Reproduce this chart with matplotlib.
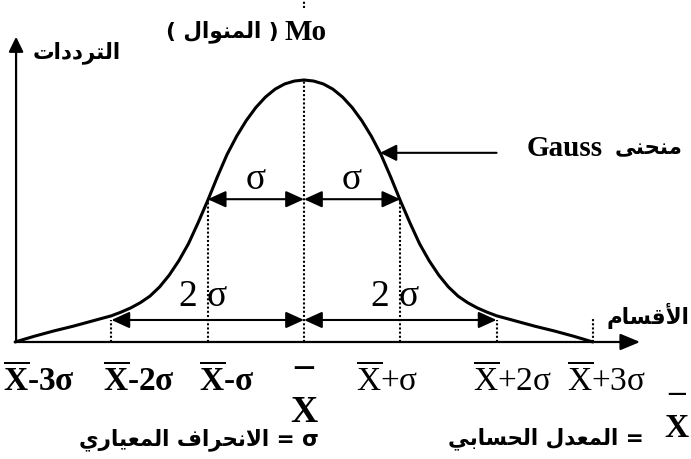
import matplotlib
matplotlib.use("Agg")
import matplotlib.pyplot as plt
import numpy as np

# ---------------- data ----------------
# positions on the horizontal axis, in units of sigma around the mean
sigma_positions = [-3, -2, -1, 0, 1, 2, 3]
tick_labels = ["-3σ", "-2σ", "-σ", "", "+σ", "+2σ", "+3σ"]

# Gauss curve, heights (peak = 100)
curve_x = [-3.0, -2.9, -2.8, -2.7, -2.6, -2.5, -2.4, -2.3, -2.2, -2.1,
           -2.0, -1.9, -1.8, -1.7, -1.6, -1.5, -1.4, -1.3, -1.2, -1.1,
           -1.0, -0.9, -0.8, -0.7, -0.6, -0.5, -0.4, -0.3, -0.2, -0.1,
           0.0,
           0.1, 0.2, 0.3, 0.4, 0.5, 0.6, 0.7, 0.8, 0.9, 1.0,
           1.1, 1.2, 1.3, 1.4, 1.5, 1.6, 1.7, 1.8, 1.9, 2.0,
           2.1, 2.2, 2.3, 2.4, 2.5, 2.6, 2.7, 2.8, 2.9, 3.0]
curve_y = [0.0, 1.1, 2.2, 3.2, 4.2, 5.1, 6.0, 7.0, 8.0, 9.0,
           10.0, 11.4, 13.0, 15.0, 17.5, 21.0, 25.5, 31.0, 37.5, 45.5,
           54.0, 63.0, 71.5, 78.5, 84.5, 89.5, 93.5, 96.5, 98.5, 99.6,
           100.0,
           99.6, 98.5, 96.5, 93.5, 89.5, 84.5, 78.5, 71.5, 63.0, 54.0,
           45.5, 37.5, 31.0, 25.5, 21.0, 17.5, 15.0, 13.0, 11.4, 10.0,
           9.0, 8.0, 7.0, 6.0, 5.1, 4.2, 3.2, 2.2, 1.1, 0.0]

# texts (logical order)
y_axis_title = "الترددات"
x_axis_title = "الأقسام"
mode_word = "المنوال"
curve_word = "منحنى"
sd_words = "الانحراف المعياري"
mean_words = "المعدل الحسابي"

# ---------------- minimal Arabic shaping ----------------
AR = {
    'ا': (0xFE8D, False), 'أ': (0xFE83, False), 'ب': (0xFE8F, True),
    'ت': (0xFE95, True), 'ح': (0xFEA1, True), 'د': (0xFEA9, False),
    'ر': (0xFEAD, False), 'س': (0xFEB1, True), 'ع': (0xFEC9, True),
    'ف': (0xFED1, True), 'ق': (0xFED5, True), 'ل': (0xFEDD, True),
    'م': (0xFEE1, True), 'ن': (0xFEE5, True), 'و': (0xFEED, False),
    'ى': (0xFEEF, False), 'ي': (0xFEF1, True),
}
LAM_ALEF = {'ا': 0xFEFB, 'أ': 0xFEF7}


def shape(s):
    toks = []
    i = 0
    while i < len(s):
        if s[i] == 'ل' and i + 1 < len(s) and s[i + 1] in LAM_ALEF:
            toks.append(('LA', s[i + 1]))
            i += 2
        else:
            toks.append(s[i])
            i += 1

    def is_letter(t):
        return t is not None and (isinstance(t, tuple) or t in AR)

    def joins_fwd(t):
        return t is not None and not isinstance(t, tuple) and t in AR and AR[t][1]

    out = []
    for k, t in enumerate(toks):
        prev = toks[k - 1] if k > 0 else None
        nxt = toks[k + 1] if k + 1 < len(toks) else None
        cp = joins_fwd(prev)
        if isinstance(t, tuple):
            b = LAM_ALEF[t[1]]
            out.append(chr(b + 1 if cp else b))
            continue
        if t not in AR:
            out.append(t)
            continue
        b, dual = AR[t]
        cn = dual and is_letter(nxt)
        if cp and cn:
            f = b + 3
        elif cp:
            f = b + 1
        elif cn:
            f = b + 2
        else:
            f = b
        out.append(chr(f))
    return ''.join(reversed(out))


# ---------------- figure ----------------
plt.rcParams['mathtext.fontset'] = 'custom'
plt.rcParams['mathtext.rm'] = 'Liberation Serif'
plt.rcParams['mathtext.bf'] = 'Liberation Serif:bold'

fig = plt.figure(figsize=(6.91, 4.59), dpi=100)
ax = fig.add_axes([0, 0, 1, 1])
ax.set_xlim(-3.157, 4.019)
ax.set_ylim(-44.66, 130.53)
ax.axis('off')

ARF = ['DejaVu Sans']
SERIF = ['Liberation Serif', 'DejaVu Serif']
K = 'black'
AR_SIZE = 15.5

# curve
ax.plot(curve_x, curve_y, color=K, lw=2.2, solid_joinstyle='round',
        solid_capstyle='round', zorder=3)

# axes arrows
ax.annotate('', xy=(-2.99, 116.5), xytext=(-2.99, 0),
            arrowprops=dict(arrowstyle='-|>,head_length=0.45,head_width=0.22',
                            mutation_scale=20, lw=1.6, color=K,
                            shrinkA=0, shrinkB=0))
ax.annotate('', xy=(3.49, 0), xytext=(-3.0, 0),
            arrowprops=dict(arrowstyle='-|>,head_length=0.6,head_width=0.25',
                            mutation_scale=20, lw=1.6, color=K,
                            shrinkA=0, shrinkB=0))

cx = np.array(curve_x)
cy = np.array(curve_y)
dot = dict(color=K, lw=1.5, linestyle=(0, (1, 1)))
sig_level = 54.5
two_sig_level = 8.4
# dotted verticals
ax.plot([0, 0], [0, np.interp(0, cx, cy)], **dot)
ax.plot([0, 0], [127.5, 130.5], **dot)
for p in (-1, 1):
    ax.plot([p, p], [0, sig_level], **dot)
for p in (-2, 2):
    ax.plot([p, p], [0, two_sig_level], **dot)
ax.plot([3, 3], [0, 8.8], **dot)

# double arrows
dstyle = dict(arrowstyle='<|-|>,head_length=0.55,head_width=0.25',
              mutation_scale=20, lw=1.5, color=K, shrinkA=0, shrinkB=0)
for a, b, lev in [(-1, 0, sig_level), (0, 1, sig_level),
                  (-2, 0, two_sig_level), (0, 2, two_sig_level)]:
    ax.annotate('', xy=(b, lev), xytext=(a, lev), arrowprops=dstyle)

# sigma labels
for p in (-0.5, 0.5):
    ax.text(p, 62, 'σ', fontsize=27, family=SERIF, ha='center', va='center')
for p in (-1, 1):
    ax.text(p - 0.05, 17.2, '2 σ', fontsize=27, family=SERIF, ha='center',
            va='center')

# Gauss arrow
gx = 0.79
gy = float(np.interp(gx, cx, cy))
ax.annotate('', xy=(gx, gy), xytext=(2.0, gy),
            arrowprops=dict(arrowstyle='-|>,head_length=0.5,head_width=0.25',
                            mutation_scale=20, lw=1.5, color=K,
                            shrinkA=0, shrinkB=0))
ax.text(2.31, 74.0, 'Gauss', fontsize=21, family=SERIF, weight='bold',
        ha='left', va='center')
ax.text(3.935, 74.0, shape(curve_word), fontsize=AR_SIZE, family=ARF,
        weight='bold', ha='right', va='center')

# axis titles
ax.text(-2.36, 110.5, shape(y_axis_title), fontsize=AR_SIZE, family=ARF,
        weight='bold', ha='center', va='center')
ax.text(4.005, 9.9, shape(x_axis_title), fontsize=AR_SIZE, family=ARF,
        weight='bold', ha='right', va='center')

# mode label
ax.text(0.239, 118.3, 'Mo', fontsize=21, family=SERIF, weight='bold',
        ha='right', va='center')
ax.text(-0.26, 118.3, '( ' + shape(mode_word) + ' )', fontsize=AR_SIZE,
        family=ARF, weight='bold', ha='right', va='center')

# tick labels
offsets = [-0.13, -0.09, -0.09, 0, -0.46, -0.25, -0.27]
for p, lab, off in zip(sigma_positions, tick_labels, offsets):
    if lab == "":
        continue
    bold = p < 0
    s = (r'$\overline{\mathbf{X}}$' if bold else r'$\overline{\mathrm{X}}$') + lab
    ax.text(p + off, -14.9, s, fontsize=24, family=SERIF,
            weight='bold' if bold else 'normal', ha='left', va='center')

# mean label (bar above X, one text)
ax.text(0, -30.6, '¯\nX', fontsize=27, family=SERIF, weight='bold',
        ha='center', va='baseline', multialignment='center', linespacing=0.72)

# legend lines at bottom
ax.text(0.15, -37.4, shape(sd_words) + ' = σ', fontsize=AR_SIZE, family=ARF,
        weight='bold', ha='right', va='center')
ax.text(1.5, -37.0, shape(mean_words) + ' =', fontsize=AR_SIZE, family=ARF,
        weight='bold', ha='left', va='center')
ax.text(3.87, -36.4, '¯\nX', fontsize=24, family=SERIF, weight='bold',
        ha='center', va='baseline', multialignment='center', linespacing=0.5)

fig.savefig('out.png', dpi=100)
